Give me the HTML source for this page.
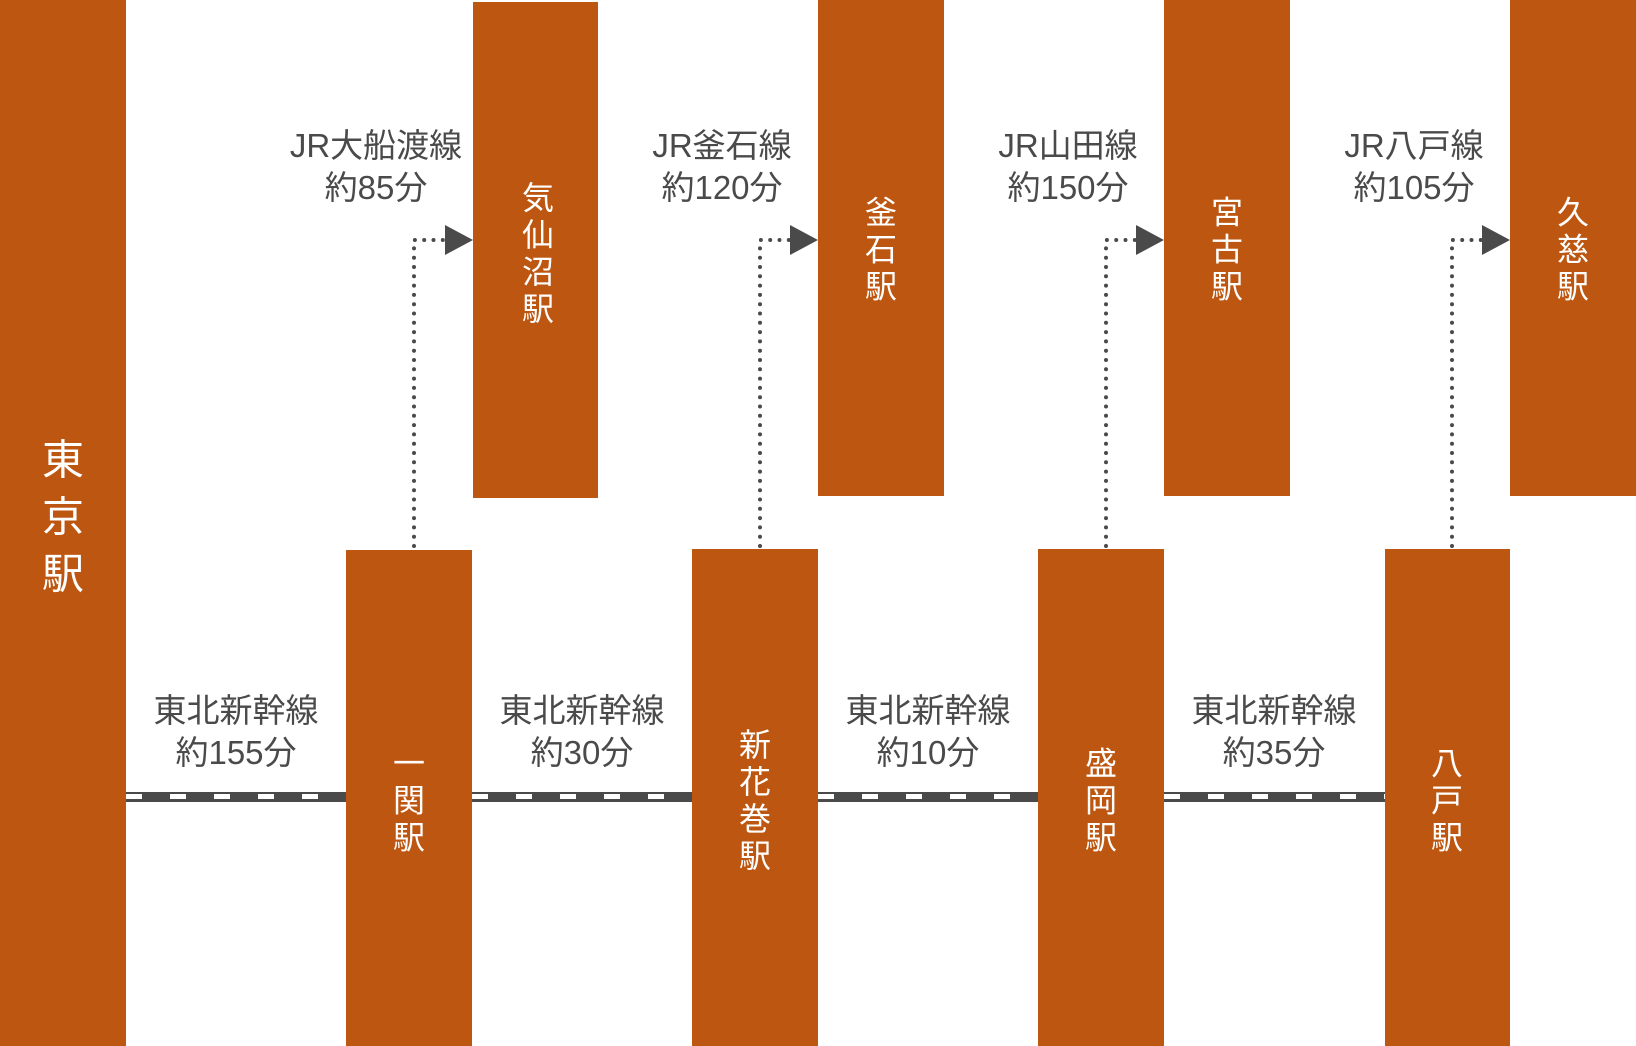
<!DOCTYPE html>
<html><head><meta charset="utf-8"><style>
body{margin:0;width:1636px;height:1046px;position:relative;background:#fff;overflow:hidden;font-family:"Liberation Sans","Noto Sans CJK JP",sans-serif}
.b{position:absolute;background:#BD5610}
.t{position:absolute;color:#fff;font-size:32px;line-height:37px;text-align:center;width:40px;transform:translate(-50%,-50%)}
.l{position:absolute;color:#4a4a4a;font-size:33px;line-height:42px;text-align:center;width:240px;transform:translateX(-50%);white-space:nowrap}
.tr{position:absolute;top:792px;border-top:2px solid #4a4a4a;border-bottom:3px solid #4a4a4a;height:5px;background:repeating-linear-gradient(90deg,#fff 0 16px,#4a4a4a 16px 44px)}
</style></head><body>
<div class="b" style="left:0;top:0;width:126px;height:1046px"></div>
<div class="t" style="left:63px;top:517px;font-size:42px;line-height:57px;width:50px">東<br>京<br>駅</div>

<div class="b" style="left:473px;top:2px;width:125px;height:496px"></div>
<div class="b" style="left:818px;top:0;width:126px;height:496px"></div>
<div class="b" style="left:1164px;top:0;width:126px;height:496px"></div>
<div class="b" style="left:1510px;top:0;width:126px;height:496px"></div>

<div class="b" style="left:346px;top:550px;width:126px;height:496px"></div>
<div class="b" style="left:692px;top:549px;width:126px;height:497px"></div>
<div class="b" style="left:1038px;top:549px;width:126px;height:497px"></div>
<div class="b" style="left:1385px;top:549px;width:125px;height:497px"></div>

<div class="t" style="left:538px;top:254px">気<br>仙<br>沼<br>駅</div>
<div class="t" style="left:881px;top:250px">釜<br>石<br>駅</div>
<div class="t" style="left:1227px;top:250px">宮<br>古<br>駅</div>
<div class="t" style="left:1573px;top:250px">久<br>慈<br>駅</div>

<div class="t" style="left:409px;top:801px">一<br>関<br>駅</div>
<div class="t" style="left:755px;top:801px">新<br>花<br>巻<br>駅</div>
<div class="t" style="left:1101px;top:801px">盛<br>岡<br>駅</div>
<div class="t" style="left:1447px;top:801px">八<br>戸<br>駅</div>

<div class="tr" style="left:126px;width:220px"></div>
<div class="tr" style="left:472px;width:220px"></div>
<div class="tr" style="left:818px;width:220px"></div>
<div class="tr" style="left:1164px;width:221px"></div>

<div class="l" style="left:236px;top:690px">東北新幹線<br>約155分</div>
<div class="l" style="left:582px;top:690px">東北新幹線<br>約30分</div>
<div class="l" style="left:928px;top:690px">東北新幹線<br>約10分</div>
<div class="l" style="left:1274px;top:690px">東北新幹線<br>約35分</div>

<div class="l" style="left:376px;top:125px">JR大船渡線<br>約85分</div>
<div class="l" style="left:722px;top:125px">JR釜石線<br>約120分</div>
<div class="l" style="left:1068px;top:125px">JR山田線<br>約150分</div>
<div class="l" style="left:1414px;top:125px">JR八戸線<br>約105分</div>

<svg width="1636" height="1046" style="position:absolute;left:0;top:0">
<g fill="none" stroke="#4a4a4a" stroke-width="4" stroke-linecap="round" stroke-dasharray="0 9.3">
<path d="M414 546 V240 H446"/>
<path d="M760 546 V240 H792"/>
<path d="M1106 546 V240 H1138"/>
<path d="M1452 546 V240 H1484"/>
</g>
<g fill="#4a4a4a">
<polygon points="445,225 473,240 445,255"/>
<polygon points="790,225 818,240 790,255"/>
<polygon points="1136,225 1164,240 1136,255"/>
<polygon points="1482,225 1510,240 1482,255"/>
</g>
</svg>
</body></html>
